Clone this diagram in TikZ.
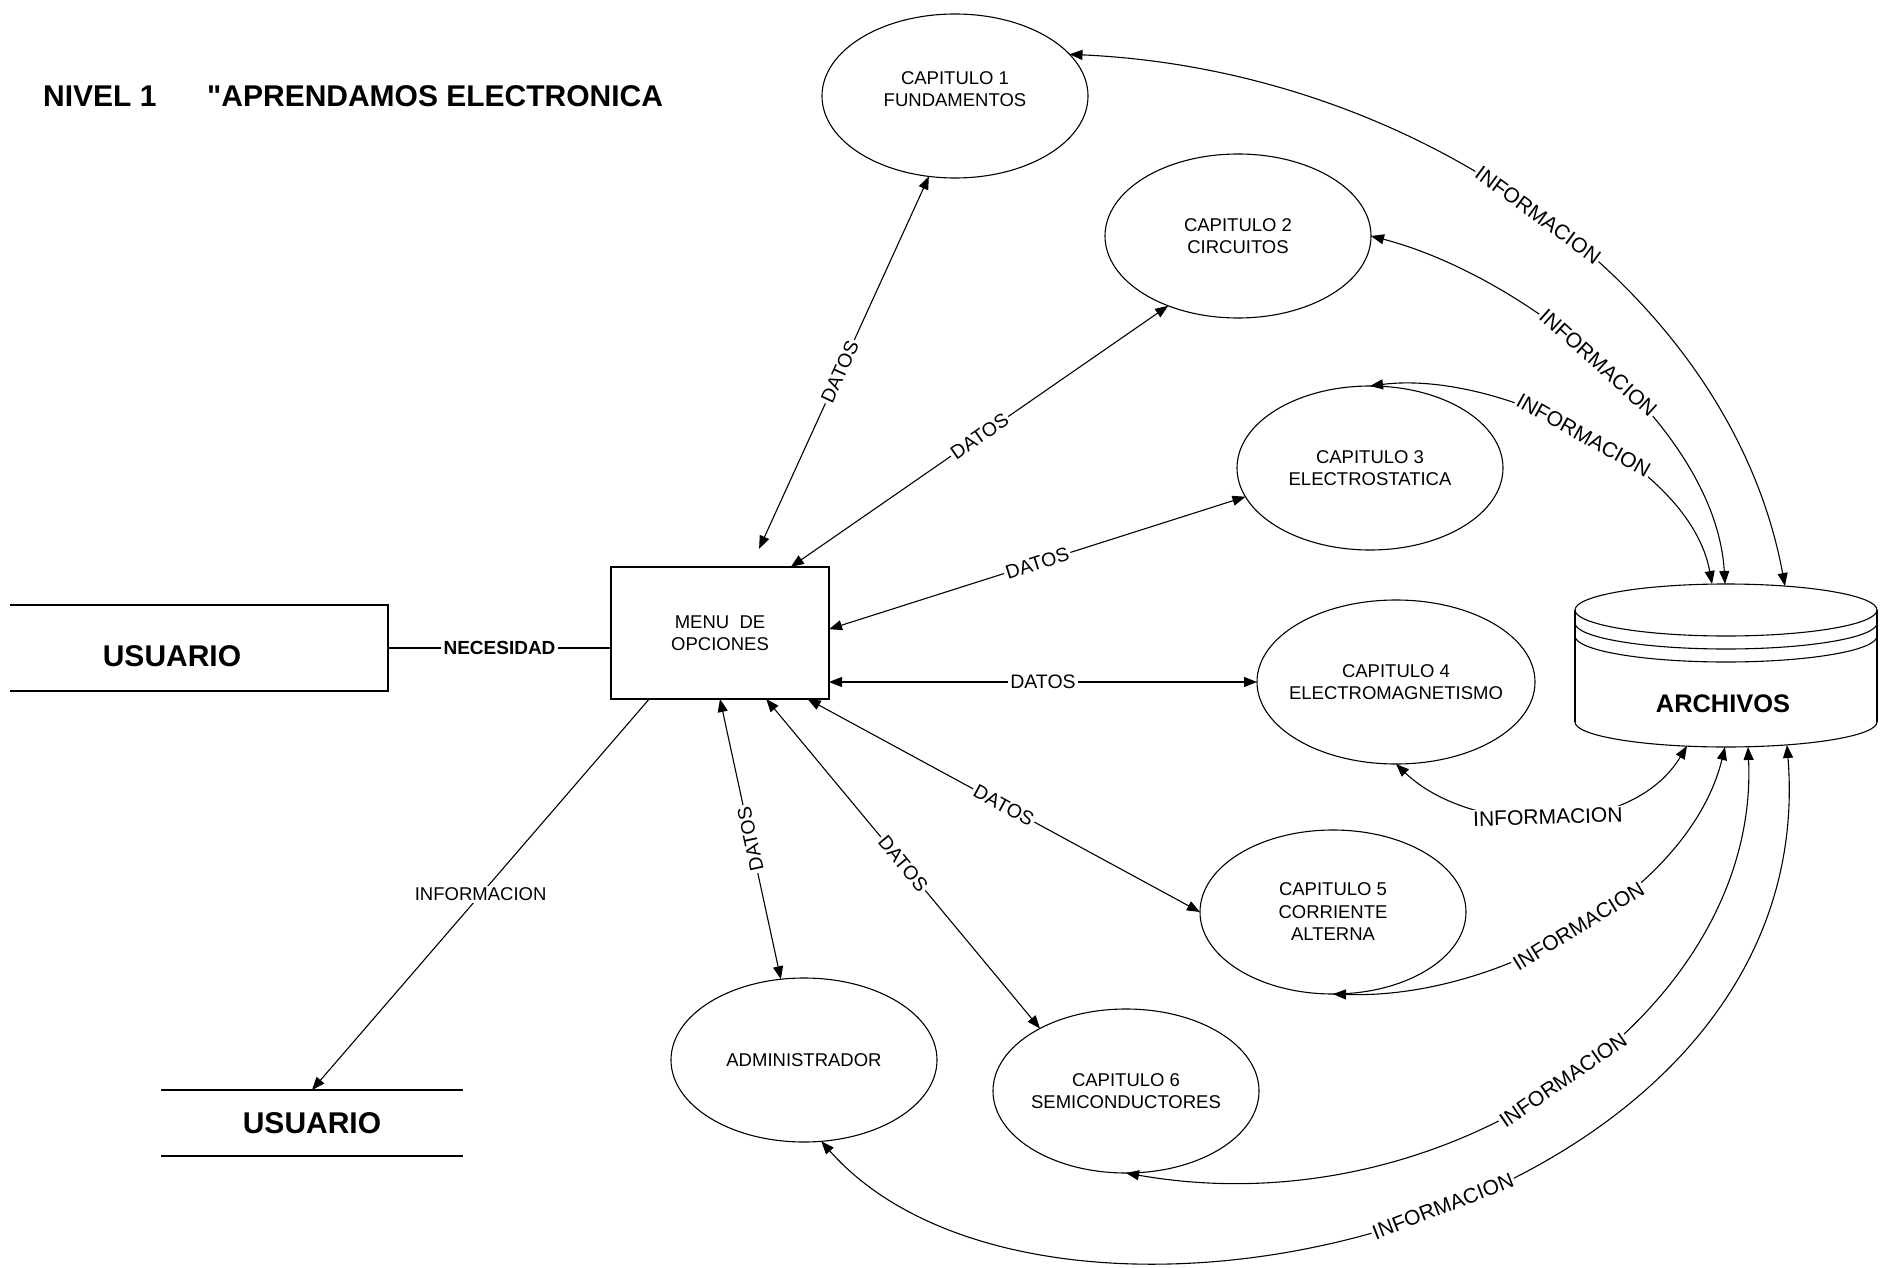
\documentclass[tikz,border=0pt]{standalone}
\usepackage{fontspec}
\setmainfont{Liberation Sans}
% a second face of the same family, kept free of the TeX quote mapping
\newfontfamily\plainsans{Liberation Sans}
\usetikzlibrary{shapes.geometric,arrows.meta}

\tikzset{
  tipA/.tip={Triangle[length=13pt,width=10pt]},
  proc/.style={ellipse, draw, line width=1.1pt, minimum width=266pt, minimum height=164pt,
    inner sep=0pt, outer sep=0pt},
  ptext/.style={align=center, inner sep=0pt, font=\fontsize{18.5}{22.5}\selectfont},
  flow/.style={line width=1.1pt, tipA-tipA},
  oneway/.style={line width=1.1pt, -tipA},
  dlabel/.style={fill=white, inner sep=2pt, font=\fontsize{19.5}{20}\selectfont},
  ilabel/.style={fill=white, inner sep=1.5pt, font=\fontsize{21}{22}\selectfont},
  bigbold/.style={font=\bfseries\fontsize{30}{36}\selectfont},
}

\begin{document}
\begin{tikzpicture}[x=1pt,y=-1pt]
\fill[white] (0,0) rectangle (1888,1268);
\useasboundingbox (0,0) rectangle (1888,1268);

% heading
\node[bigbold, anchor=west, inner sep=0pt] (t1) at (43,96) {NIVEL 1};
\node[bigbold, anchor=west, inner sep=0pt] (t2) at (207,96) {{\plainsans\bfseries\char"22}APRENDAMOS ELECTRONICA};

% external entities
\node[minimum width=378pt, minimum height=86pt, inner sep=0pt, outer sep=0pt] (u1) at (199,648) {};
\draw[line width=1.2pt] (u1.north west) -- (u1.north east) -- (u1.south east) -- (u1.south west);
\node[bigbold] (u1t) at (172,656) {USUARIO};

\node[bigbold, minimum width=302pt, minimum height=66pt, inner sep=0pt, outer sep=0pt] (u2) at (312,1123) {USUARIO};
\draw[line width=1.2pt] (u2.north west) -- (u2.north east);
\draw[line width=1.2pt] (u2.south west) -- (u2.south east);

% main process box
\node[draw, line width=1.2pt, minimum width=218pt, minimum height=132pt, outer sep=0pt,
  align=center, font=\fontsize{18.5}{21.5}\selectfont] (menu) at (720,633) {MENU\ \ DE\\OPCIONES};

% chapter processes
\node[proc] (c1) at (955,96) {};
\node[ptext] (c1t) at (955,89) {CAPITULO 1\\FUNDAMENTOS};
\node[proc] (c2) at (1238,236) {};
\node[ptext] (c2t) at (c2) {CAPITULO 2\\CIRCUITOS};
\node[proc] (c3) at (1370,468) {};
\node[ptext] (c3t) at (c3) {CAPITULO 3\\ELECTROSTATICA};
\node[proc, minimum width=278pt] (c4) at (1396,682) {};
\node[ptext] (c4t) at (c4) {CAPITULO 4\\ELECTROMAGNETISMO};
\node[proc] (c5) at (1333,912) {};
\node[ptext] (c5t) at (c5) {CAPITULO 5\\CORRIENTE\\ALTERNA};
\node[proc] (c6) at (1126,1091) {};
\node[ptext] (c6t) at (c6) {CAPITULO 6\\SEMICONDUCTORES};
\node[proc] (admin) at (804,1060) {};
\node[ptext] (admint) at (admin) {ADMINISTRADOR};

% data store
\begin{scope}[line width=1.1pt]
  \draw (1726,610) ellipse [x radius=151, y radius=26];
  \draw (1575,623) arc[start angle=180, end angle=0, x radius=151, y radius=26];
  \draw (1575,636) arc[start angle=180, end angle=0, x radius=151, y radius=26];
  \draw (1575,610) -- (1575,722);
  \draw (1877,610) -- (1877,722);
  \draw (1575,722) arc[start angle=180, end angle=0, x radius=151, y radius=25];
\end{scope}
\node[font=\bfseries\fontsize{25.4}{30}\selectfont] (arch) at (1723,704) {ARCHIVOS};
\coordinate (aT1) at (1785,586);
\coordinate (aT2) at (1725,584);
\coordinate (aT3) at (1712,584);
\coordinate (aB4) at (1687,746);
\coordinate (aB5) at (1725,747);
\coordinate (aB6) at (1748,747);
\coordinate (aB7) at (1787,745);

% user request
\draw[line width=1.1pt] (u1.east) -- node[fill=white, inner sep=3pt,
  font=\bfseries\fontsize{19}{20}\selectfont] (nec) {NECESIDAD} (u1.east -| menu.west);

% data flows between menu and processes
\draw[flow, shorten <=20pt] (menu.65) -- node[dlabel, sloped] (d1) {DATOS} (c1.-108);
\draw[flow] (menu.43.7) -- node[dlabel, sloped] (d2) {DATOS} (c2.-135);
\draw[flow] (menu.2) -- node[dlabel, sloped] (d3) {DATOS} (c3.-167);
\draw[flow] (menu.east |- c4.west) -- node[dlabel] (d4) {DATOS} (c4.west);
\draw[flow] (menu.-37.5) -- node[dlabel, sloped] (d5) {DATOS} (c5.west);
\draw[flow] (menu.-55.7) -- node[dlabel, sloped] (d6) {DATOS} (c6.144);
\draw[flow] (menu.south) -- node[dlabel, rotate=102.3] (d7) {DATOS} (admin.106);

% output to the user
\draw[oneway] (menu.-137.5) -- node[fill=white, inner sep=2pt,
  font=\fontsize{18.5}{20}\selectfont] (inf0) {INFORMACION} (u2.north);

% information flows with the data store
\draw[flow] (c1.20) .. controls (1420,70) and (1730,290) .. node[ilabel, sloped] (i1) {INFORMACION} (aT1);
\draw[flow] (c2.east) .. controls (1525,276) and (1716,428) .. node[ilabel, sloped, pos=0.49] (i2) {INFORMACION} (aT2);
\draw[flow] (c3.north) .. controls (1495,370) and (1690,462) .. node[ilabel, sloped, pos=0.51] (i3) {INFORMACION} (aT3);
\draw[flow] (c4.south) .. controls (1470,835) and (1630,840) .. node[ilabel, sloped] (i4) {INFORMACION} (aB4);
\draw[flow] (c5.south) .. controls (1500,1000) and (1690,890) .. node[ilabel, sloped] (i5) {INFORMACION} (aB5);
\draw[flow] (c6.south) .. controls (1450,1230) and (1760,1010) .. node[ilabel, sloped] (i6) {INFORMACION} (aB6);
\draw[flow] (admin.-78) .. controls (1050,1400) and (1825,1225) .. node[ilabel, sloped, pos=0.53] (i7) {INFORMACION} (aB7);

\end{tikzpicture}
\end{document}
